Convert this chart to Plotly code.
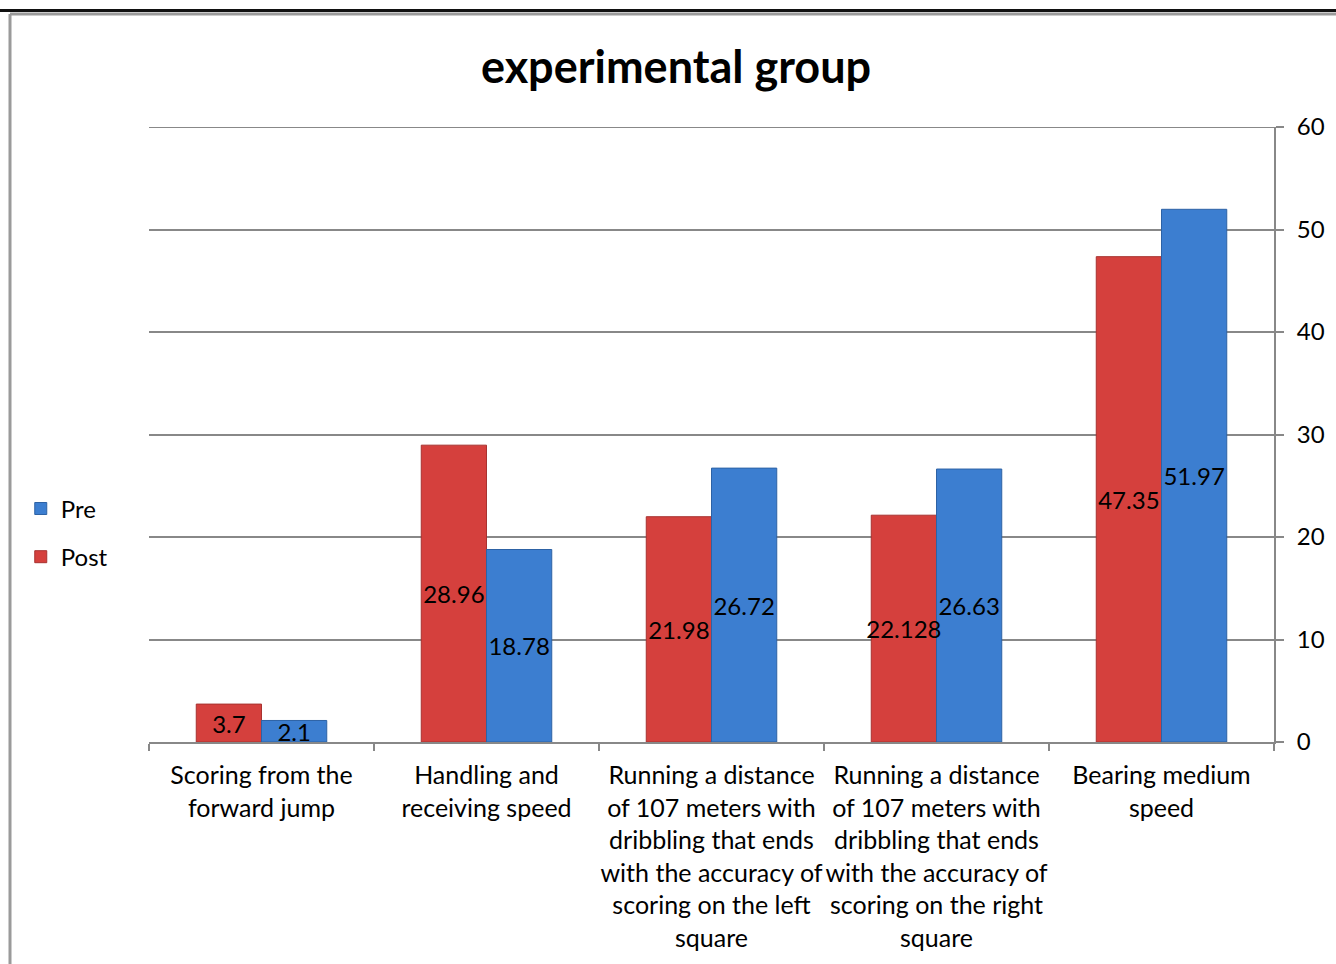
import plotly.graph_objects as go

categories = [
    "Scoring from the<br>forward jump",
    "Handling and<br>receiving speed",
    "Running a distance<br>of 107 meters with<br>dribbling that ends<br>with the accuracy of<br>scoring on the left<br>square",
    "Running a distance<br>of 107 meters with<br>dribbling that ends<br>with the accuracy of<br>scoring on the right<br>square",
    "Bearing medium<br>speed",
]
post_values = [3.7, 28.96, 21.98, 22.128, 47.35]
pre_values = [2.1, 18.78, 26.72, 26.63, 51.97]
post_labels = ["3.7", "28.96", "21.98", "22.128", "47.35"]
pre_labels = ["2.1", "18.78", "26.72", "26.63", "51.97"]
y_ticks = [0, 10, 20, 30, 40, 50, 60]

FONT = "Lato, 'Open Sans', sans-serif"
GRID = "#888888"

fig = go.Figure()
# visible bars
fig.add_trace(go.Bar(
    name="Post", x=categories, y=post_values, offsetgroup="post",
    marker=dict(color="#D5403D", line=dict(color="#A83230", width=1)),
    legendgroup="post", legendrank=2,
))
fig.add_trace(go.Bar(
    name="Pre", x=categories, y=pre_values, offsetgroup="pre",
    marker=dict(color="#3C7ED0", line=dict(color="#2D62A5", width=1)),
    legendgroup="pre", legendrank=1,
))
# transparent overlays carrying the value labels, drawn above all bars
for vals, labels, grp in [(post_values, post_labels, "post"), (pre_values, pre_labels, "pre")]:
    fig.add_trace(go.Bar(
        x=categories, y=vals, text=labels, offsetgroup=grp, legendgroup=grp,
        showlegend=False, hoverinfo="skip",
        marker=dict(color="rgba(0,0,0,0)", line=dict(width=0)),
        textposition="inside", insidetextanchor="middle", constraintext="none",
        textangle=0, cliponaxis=False,
        textfont=dict(color="black", size=24, family=FONT),
    ))

fig.update_layout(
    width=1336, height=964,
    margin=dict(l=149, r=62, t=127, b=222),
    paper_bgcolor="white", plot_bgcolor="white",
    font=dict(family=FONT, size=24, color="black"),
    barmode="group", bargap=0.42, bargroupgap=0,
    title=dict(text="<b>experimental group</b>", x=0.506, xanchor="center",
               y=1 - 67 / 964, yanchor="middle", yref="container",
               font=dict(size=45, family=FONT, color="black")),
    legend=dict(x=-0.114, xanchor="left", y=0.34, yanchor="middle",
                traceorder="grouped", tracegroupgap=14,
                font=dict(size=24, family=FONT), bgcolor="rgba(0,0,0,0)",
                itemwidth=30),
    showlegend=True,
)
fig.update_xaxes(
    showgrid=False, showline=True, linecolor=GRID, linewidth=2,
    ticks="outside", tickson="boundaries", ticklen=7, tickcolor=GRID, tickwidth=2,
    tickfont=dict(size=25, family=FONT, color="black"), tickangle=0,
    ticklabelstandoff=10,
)
fig.update_yaxes(
    range=[0, 60], side="right", tickvals=y_ticks,
    showgrid=True, gridcolor=GRID, gridwidth=2,
    showline=True, linecolor=GRID, linewidth=2,
    ticks="outside", ticklen=8, tickcolor=GRID, tickwidth=2,
    tickfont=dict(size=24, family=FONT, color="black"),
    ticklabelstandoff=8,
    zeroline=False,
)

# top gridline at the axis maximum
fig.add_shape(type="line", xref="paper", yref="y", x0=0, x1=1,
              y0=y_ticks[-1], y1=y_ticks[-1], line=dict(color=GRID, width=2),
              layer="below")

# chart frame and top page rule
fig.add_shape(type="line", xref="paper", yref="paper",
              x0=(10 - 149) / 1125, x1=(10 - 149) / 1125,
              y0=(742 - 14) / 615, y1=(742 - 975) / 615,
              line=dict(color="#9a9a9a", width=3))
fig.add_shape(type="line", xref="paper", yref="paper",
              x0=(10 - 149) / 1125, x1=(1340 - 149) / 1125,
              y0=(742 - 14) / 615, y1=(742 - 14) / 615,
              line=dict(color="#9a9a9a", width=3))
fig.add_shape(type="line", xref="paper", yref="paper",
              x0=-149 / 1125, x1=(1340 - 149) / 1125,
              y0=(742 - 10.5) / 615, y1=(742 - 10.5) / 615,
              line=dict(color="#111111", width=3))

fig.write_html("out.html")
